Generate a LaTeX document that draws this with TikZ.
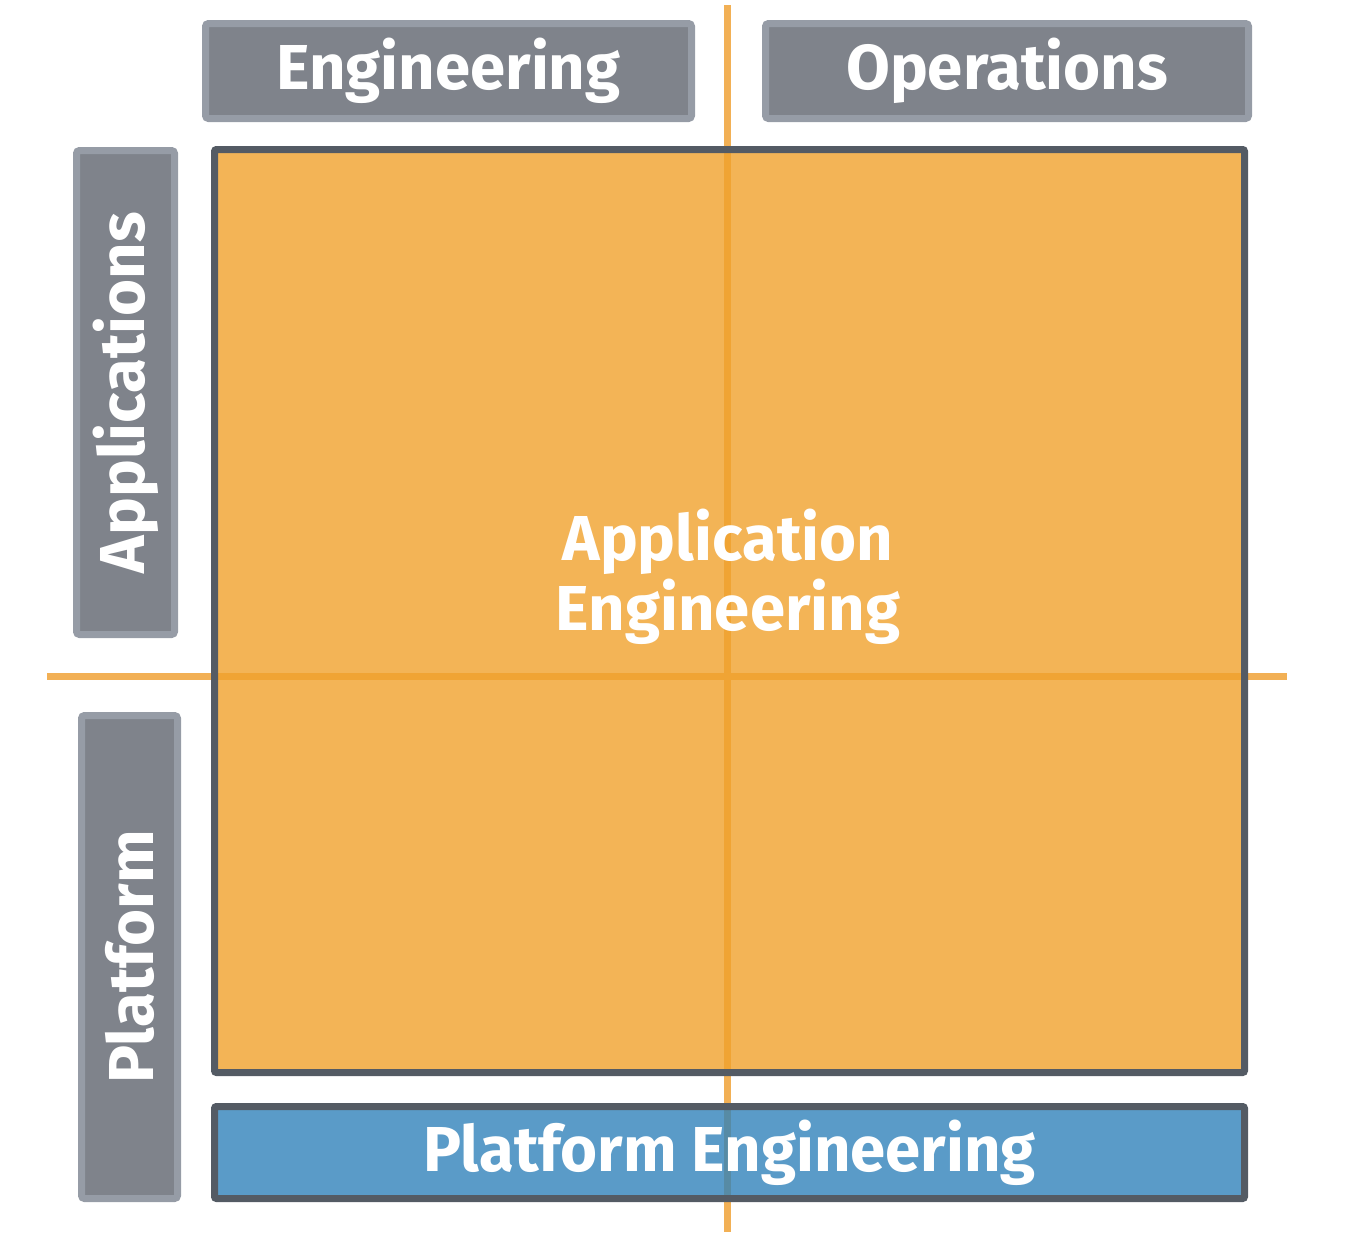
\documentclass[tikz,border=0pt]{standalone}
\usepackage{fontspec}
\setmainfont{Fira Sans}
\definecolor{grayfill}{HTML}{7F838B}
\definecolor{grayedge}{HTML}{969CA6}
\definecolor{darkedge}{HTML}{545B64}
\definecolor{orangefill}{RGB}{240,161,44}
\definecolor{bluefill}{RGB}{49,130,186}
\definecolor{guidecol}{RGB}{242,176,85}
\begin{document}
\begin{tikzpicture}[x=1pt,y=-1pt,
  lbl/.style={text=white, font=\bfseries\fontsize{63.5}{70}\selectfont},
  graybox/.style={lbl, draw=grayedge, fill=grayfill, line width=7pt, rounded corners=3pt, inner sep=0pt, outer sep=0pt},
  mainbox/.style={draw=darkedge, line width=7pt, rounded corners=2pt, inner sep=0pt, outer sep=0pt, fill opacity=0.8, draw opacity=1, text opacity=1},
  guide/.style={draw=guidecol, line width=7pt}
]
\useasboundingbox (0,0) rectangle (1354,1256);

% header and side labels
\node[graybox, minimum width=486pt, minimum height=95pt] (eng) at (448.5,71) {Engineering};
\node[graybox, minimum width=483pt, minimum height=95pt] (ops) at (1007,71) {Operations};
\node[graybox, rotate=90, minimum width=484pt, minimum height=98pt] (apps) at (125.5,392.5) {Applications};
\node[graybox, rotate=90, minimum width=483pt, minimum height=96pt] (plat) at (129.5,957) {Platform};

% guide lines
\coordinate (vtop) at (727,5);
\coordinate (vbot) at (727,1232);
\coordinate (hleft) at (47,676);
\coordinate (hright) at (1287,676);
\draw[guide] (vtop) -- (vbot);
\draw[guide] (hleft) -- (hright);

% main boxes
\node[mainbox, fill=orangefill, minimum width=1030pt, minimum height=923pt] (appeng) at (729.5,611) {};
\node[lbl, align=center, inner sep=0pt] (appengtext) at (728,577) {Application\\[0pt]Engineering};
\node[mainbox, lbl, fill=bluefill, minimum width=1030pt, minimum height=92pt] (plateng) at (729.5,1152.5) {Platform Engineering};
\end{tikzpicture}
\end{document}
